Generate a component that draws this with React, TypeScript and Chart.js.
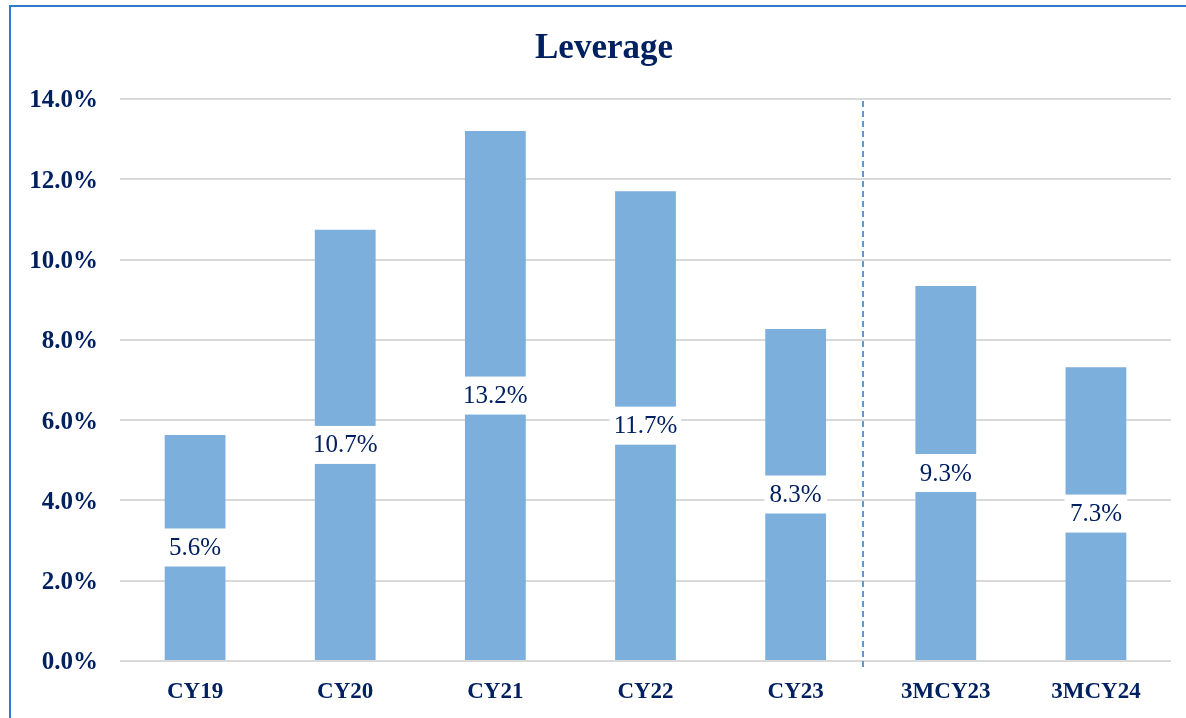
import React, { useEffect, useRef } from "react";
import { Chart, registerables } from "chart.js";

Chart.register(...registerables);

const categories = ["CY19", "CY20", "CY21", "CY22", "CY23", "3MCY23", "3MCY24"];
const leverage = [5.63, 10.74, 13.2, 11.7, 8.27, 9.34, 7.32];
const yTickValues = [0, 2, 4, 6, 8, 10, 12, 14];
const chartTitle = "Leverage";
// divider sits between CY23 (index 4) and 3MCY23 (index 5)
const dividerAt = 4.45;

const NAVY = "#002060";
const BAR = "#7DAFDD";
const FONT = "'Liberation Serif', 'Times New Roman', serif";

const dataLabelPlugin = {
  id: "boxedLabels",
  afterDatasetsDraw(chart: any) {
    const ctx = chart.ctx;
    const meta = chart.getDatasetMeta(0);
    ctx.save();
    ctx.font = `25px ${FONT}`;
    ctx.textAlign = "center";
    ctx.textBaseline = "middle";
    meta.data.forEach((el: any, i: number) => {
      const v = chart.data.datasets[0].data[i] as number;
      const text = v.toFixed(1) + "%";
      const cx = el.x;
      const cy = (el.y + el.base) / 2;
      const tw = ctx.measureText(text).width;
      const w = Math.max(tw + 8, el.width + 2);
      const h = 38;
      ctx.fillStyle = "#FFFFFF";
      ctx.fillRect(cx - w / 2, cy - h / 2, w, h);
      ctx.fillStyle = NAVY;
      ctx.fillText(text, cx, cy + 1);
    });
    ctx.restore();
  },
};

const dividerPlugin = {
  id: "divider",
  afterDatasetsDraw(chart: any) {
    const ctx = chart.ctx;
    const x = Math.round(chart.scales.x.getPixelForValue(dividerAt));
    const { top, bottom } = chart.chartArea;
    ctx.save();
    ctx.strokeStyle = "#5B9BD5";
    ctx.lineWidth = 2;
    ctx.setLineDash([6, 4]);
    ctx.beginPath();
    ctx.moveTo(x, top + 2);
    ctx.lineTo(x, bottom + 6);
    ctx.stroke();
    ctx.restore();
  },
};

// centre the title over the whole frame rather than the padded layout area
const titleCentrePlugin = {
  id: "titleCentre",
  afterLayout(chart: any) {
    const t = chart.titleBlock;
    if (t) {
      t.left = 26;
      t.width = t.right - t.left;
    }
  },
};

export default function App() {
  const canvasRef = useRef<HTMLCanvasElement | null>(null);

  useEffect(() => {
    if (!canvasRef.current) return;
    const chart = new Chart(canvasRef.current, {
      type: "bar",
      data: {
        labels: categories,
        datasets: [
          {
            data: leverage,
            backgroundColor: BAR,
            borderWidth: 0,
            barPercentage: 0.405,
            categoryPercentage: 1,
          },
        ],
      },
      options: {
        responsive: false,
        animation: false,
        layout: { padding: { left: 0, right: 26, top: 0, bottom: 0 } },
        plugins: {
          legend: { display: false },
          tooltip: { enabled: false },
          title: {
            display: true,
            text: chartTitle,
            color: NAVY,
            font: { family: FONT, size: 35, weight: "bold" },
            padding: { top: 21, bottom: 29 },
          },
        },
        scales: {
          x: {
            grid: { display: false, drawTicks: false },
            border: { display: false },
            ticks: {
              color: NAVY,
              font: { family: FONT, size: 23, weight: "bold" },
              padding: 17,
            },
            afterFit: (s: any) => {
              s.height = 76;
            },
          },
          y: {
            min: 0,
            max: 14,
            afterBuildTicks: (s: any) => {
              s.ticks = yTickValues.map((v) => ({ value: v }));
            },
            grid: { color: "#D9D9D9", lineWidth: 2, drawTicks: false },
            border: { display: false },
            ticks: {
              color: NAVY,
              font: { family: FONT, size: 25, weight: "bold" },
              padding: 22,
              labelOffset: 2,
              callback: (v: any) => Number(v).toFixed(1) + "%",
            },
            afterFit: (s: any) => {
              s.width = 109;
            },
          },
        },
      },
      plugins: [titleCentrePlugin, dividerPlugin, dataLabelPlugin],
    });
    return () => chart.destroy();
  }, []);

  return (
    <div style={{ position: "fixed", inset: 0, overflow: "hidden", background: "#fff" }}>
      <div
        style={{
          position: "absolute",
          left: 9,
          top: 5,
          border: "2px solid #2B7CCB",
          width: 1186,
          height: 730,
        }}
      >
        <canvas ref={canvasRef} width={1186} height={730} style={{ display: "block" }} />
      </div>
    </div>
  );
}
